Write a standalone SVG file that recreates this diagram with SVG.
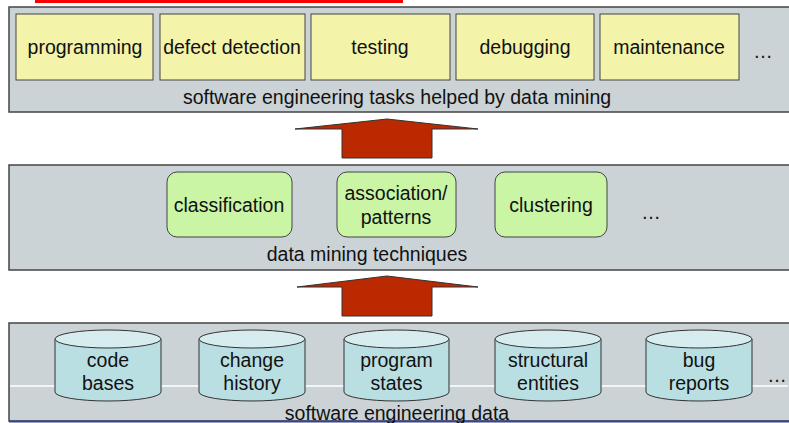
<svg xmlns="http://www.w3.org/2000/svg" width="789" height="423" viewBox="0 0 789 423">
<style>
text{font-family:"Liberation Sans",Arial,sans-serif;font-size:19.5px;fill:#111;text-anchor:middle}
.panel{fill:#cbd3d6;stroke:#444;stroke-width:1.5}
.task{fill:#f3f3aa;stroke:#444;stroke-width:1}
.tech{fill:#c9f5a5;stroke:#444;stroke-width:1}
.cyl{fill:#b9dfe2;stroke:#333;stroke-width:1}
.cyltop{fill:#d6ecee;stroke:#333;stroke-width:1}
.arrow{fill:#bb2900;stroke:#333;stroke-width:1}
</style>
<rect x="0" y="0" width="789" height="423" fill="#fff"/>
<rect x="35" y="0" width="368" height="3" fill="#f00"/>

<g id="panel-tasks">
<rect class="panel" x="9" y="7" width="785" height="105"/>
<text x="397" y="104">software engineering tasks helped by data mining</text>
</g>
<g id="task-programming"><rect class="task" x="16" y="14" width="137" height="66"/><text x="85" y="54">programming</text></g>
<g id="task-defect"><rect class="task" x="160" y="14" width="145" height="66"/><text x="232" y="54">defect detection</text></g>
<g id="task-testing"><rect class="task" x="311" y="14" width="139" height="66"/><text x="380" y="54">testing</text></g>
<g id="task-debugging"><rect class="task" x="456" y="14" width="138" height="66"/><text x="525" y="54">debugging</text></g>
<g id="task-maintenance"><rect class="task" x="600" y="14" width="139" height="66"/><text x="669" y="54">maintenance</text></g>
<g id="task-more"><text x="763" y="58">…</text></g>

<g id="panel-techniques">
<rect class="panel" x="9" y="165" width="785" height="105"/>
<text x="367" y="261">data mining techniques</text>
</g>
<g id="tech-classification"><rect class="tech" x="167" y="172" width="125" height="65" rx="10"/><text x="229" y="212">classification</text></g>
<g id="tech-association"><rect class="tech" x="337" y="172" width="119" height="65" rx="10"/><text x="396" y="200">association/</text><text x="396" y="224">patterns</text></g>
<g id="tech-clustering"><rect class="tech" x="495" y="172" width="112" height="65" rx="10"/><text x="551" y="212">clustering</text></g>
<g id="tech-more"><text x="651" y="219">…</text></g>

<g id="panel-data">
<rect class="panel" x="9" y="323" width="785" height="98"/>
<line x1="10" y1="386" x2="788" y2="386" stroke="#fff" stroke-width="1.5"/>
<line x1="9" y1="421.5" x2="789" y2="421.5" stroke="#33449a" stroke-width="2"/>
<text x="397" y="420">software engineering data</text>
</g>
<g id="data-code">
<path class="cyl" d="M55,339 V392 A53,9 0 0 0 161,392 V339"/>
<ellipse class="cyltop" cx="108" cy="339" rx="53" ry="9"/>
<text x="108" y="367">code</text><text x="108" y="390">bases</text>
</g>
<g id="data-change">
<path class="cyl" d="M199,339 V392 A53,9 0 0 0 305,392 V339"/>
<ellipse class="cyltop" cx="252" cy="339" rx="53" ry="9"/>
<text x="252" y="367">change</text><text x="252" y="390">history</text>
</g>
<g id="data-program">
<path class="cyl" d="M344,339 V392 A52.5,9 0 0 0 449,392 V339"/>
<ellipse class="cyltop" cx="396.5" cy="339" rx="52.5" ry="9"/>
<text x="396.5" y="367">program</text><text x="396.5" y="390">states</text>
</g>
<g id="data-structural">
<path class="cyl" d="M495,339 V392 A53,9 0 0 0 601,392 V339"/>
<ellipse class="cyltop" cx="548" cy="339" rx="53" ry="9"/>
<text x="548" y="367">structural</text><text x="548" y="390">entities</text>
</g>
<g id="data-bug">
<path class="cyl" d="M646,339 V392 A53,9 0 0 0 752,392 V339"/>
<ellipse class="cyltop" cx="699" cy="339" rx="53" ry="9"/>
<text x="699" y="367">bug</text><text x="699" y="390">reports</text>
</g>
<g id="data-more"><text x="777" y="382">…</text></g>

<g id="connectors">
<polygon class="arrow" points="295,129 387,119 478,129 432,129 432,158 342,158 342,129"/>
<polygon class="arrow" points="297,287 387,276 478,287 432,287 432,316 342,316 342,287"/>
</g>
</svg>
